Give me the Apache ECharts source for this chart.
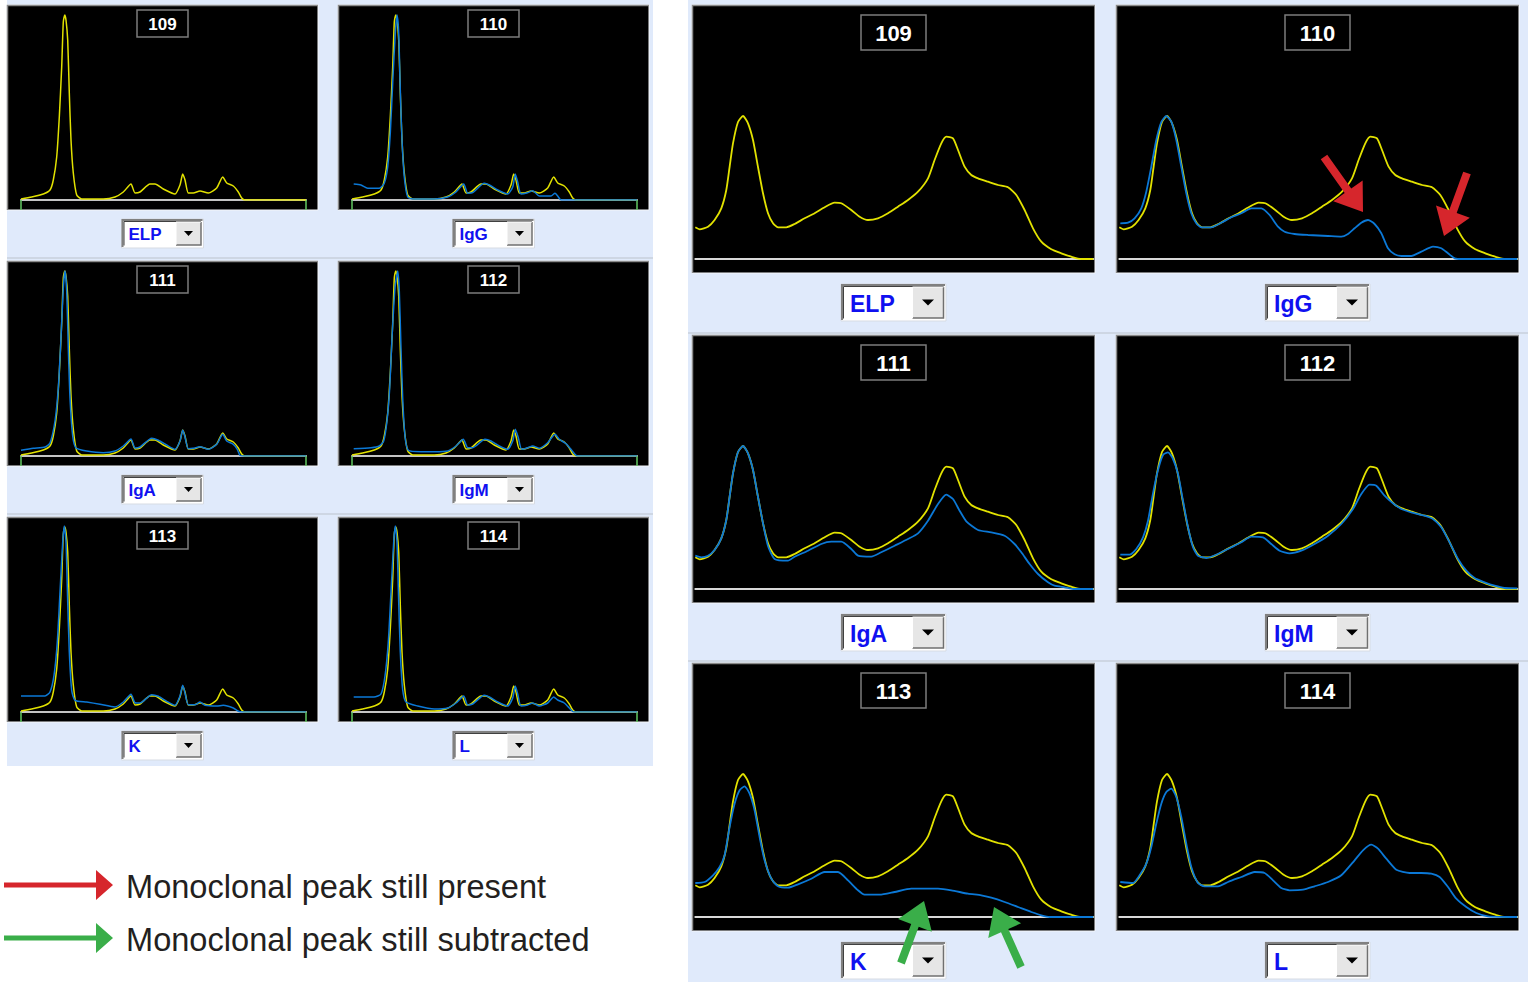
<!DOCTYPE html>
<html><head><meta charset="utf-8">
<script src="https://cdn.jsdelivr.net/npm/echarts@6/dist/echarts.min.js"></script>
<style>html,body{margin:0;padding:0;background:#fff;overflow:hidden}#c{position:absolute;left:0;top:0;width:1528px;height:982px}</style>
</head><body><div id="c"></div>
<script>
// ---------- labels ----------
const panelTitles = ['109', '110', '111', '112', '113', '114'];
const panelTests = ['ELP', 'IgG', 'IgA', 'IgM', 'K', 'L'];
const legendLabels = ['Monoclonal peak still present', 'Monoclonal peak still subtracted'];

// ---------- overview (small) traces: [migration, density] ----------
const smallELP = [[0,1],[10.7,3],[22.3,6],[29,10],[32.3,20],[35.7,43],[38.3,83],[40.7,133],[42.3,178],[43.7,185],[45,180],[46.7,160],[48.3,107],[50,60],[52.3,27],[55.7,5],[60.7,1],[82.3,1],[94,3],[102.3,8],[110,16],[114,7],[119,8],[129,16],[134,16],[142.3,11],[154,6],[159,15],[161.7,26],[164,20],[167.3,7],[172.3,7],[179,9],[187.3,7],[195.7,12],[201.7,23],[205.7,17],[212.3,14],[217.3,8],[220.7,2],[224,0],[285,0]];
const smallIgG = [[1.7,16],[9,15],[15.7,11.7],[27.3,11.7],[32.3,16.7],[35.7,33],[38.3,67],[40.7,117],[43.3,167],[45,185],[46.7,167],[48.3,110],[50,60],[52.3,23],[55.7,3],[62.3,1],[82.3,1],[95.7,3],[104,8],[111.7,16],[115.7,6.7],[120.7,7.3],[132.3,16.7],[137.3,15],[145.7,10],[155.7,6],[160.7,13],[163.3,26],[165.7,18],[169,6],[175.7,7.3],[180.7,9.3],[187.3,4],[199,4],[203,6.7],[205.7,4],[209,0],[285,0]];
const smallIgA = [[0,5.7],[12.3,7.7],[24,9],[29,13],[34,35],[37.3,68],[40,118],[42.3,168],[44,185],[45.7,165],[47.3,108],[49,58],[51.7,20],[55,8],[65.7,5],[82.3,3.3],[94,5],[102.3,10],[110,17],[114,8],[119,9],[130.7,17.7],[137.3,15.7],[145.7,11],[154,6.7],[159,15],[161.7,26],[164,19],[167.3,7.3],[172.3,7.7],[179,9.3],[187.3,6.7],[195.7,11.7],[201.7,21.7],[205.7,15],[212.3,11.7],[216.3,6.7],[219,0.7],[224,0],[285,0]];
const smallIgM = [[1.7,7.3],[19,8.3],[27.3,10],[31.7,15],[35,35],[37.7,68],[40,118],[43,168],[45.7,185],[47.3,165],[49,108],[50.7,58],[53,20],[56.3,5.7],[69,4.3],[82.3,4.3],[95.7,5],[104,10],[111.3,16.7],[115.7,8.3],[120.7,8.3],[133,16.7],[139,15],[147.3,10],[155.7,6.7],[160.7,15],[163.3,26.7],[166.3,18.3],[169.7,6.7],[175.7,8.3],[180.7,10],[187.3,7.7],[195.7,13.3],[203,21.7],[207.3,16.7],[214,12.3],[219,6.7],[224,0.7],[227.3,0],[285,0]];
const smallK = [[0,16],[24,16],[29,20],[33,36.7],[36.3,70],[39,120],[41.7,170],[43.3,186],[45,170],[46.7,110],[48.3,60],[50.7,21.7],[54,11.7],[65.7,10],[79,7.7],[94,5],[102.3,10],[110,17.7],[114,9.3],[119,9],[130.7,17.3],[137.3,15.7],[145.7,10.7],[154,6.7],[159,16],[161.7,26.7],[164,19],[167.3,7.3],[174,7.3],[179,10],[184,6.7],[195.7,6],[202.3,6.7],[212.3,4],[216.3,1.3],[220.7,0],[285,0]];
const smallL = [[1.7,15],[22,15],[29,18],[33,36],[36.3,70],[39,120],[41.7,170],[43.3,186],[45,170],[46.7,110],[48.3,60],[50.7,22],[54,10],[65.7,6],[82.3,3],[95.7,4],[104,9],[111.7,16],[115.7,7],[120.7,8],[132.3,16.7],[137.3,15],[145.7,10],[155.7,6],[160.7,14],[163.3,26],[165.7,18],[169,6],[175.7,7],[180.7,9],[187.3,6],[195.7,9],[201.7,15],[205.7,12],[212.3,9],[217.3,4],[222,0],[285,0]];

// ---------- zoomed (large) traces ----------
const largeELP = [[0,31.7],[4.3,29.7],[12.7,32.3],[19.3,39],[26,50.7],[31,69],[34.3,92],[37.7,115.7],[42.7,137],[47.7,143],[52.7,135.7],[57.7,119],[62.7,92],[67.7,65.7],[72.7,45.7],[77.7,35.7],[82.7,31.7],[91,31.7],[99.3,35],[109.3,40.7],[119.3,45.7],[129.3,51.7],[139.3,56.3],[146,55.7],[156,49],[164.3,42.3],[172.7,39],[182.7,40.7],[192.7,45.7],[202.7,52.3],[212.7,59],[222.7,67.3],[232.7,80.7],[239.3,99],[246,115.7],[251,122.3],[257.7,120.7],[262.7,109],[269.3,92.3],[276,84],[282.7,80.7],[292.7,77.3],[302.7,74],[312.7,71.7],[321,64],[329.3,49],[337.7,30.7],[346,17.3],[356,9.7],[366,5.7],[376,2.3],[386,0],[398,0]];
const largeIgG = [[1,35.7],[8.7,36.3],[15.3,40.7],[22,50.7],[27,67.3],[32,92.3],[37,119],[42,137],[47,143],[52,137.3],[57,119],[62,92.3],[67,65.7],[72,45.7],[77,35.7],[82,31.7],[92,31.7],[102,36.3],[112,41.7],[122,45.7],[132,50.7],[142,50.7],[150.3,44],[158.7,32.3],[165.3,27.3],[175.3,25],[188.7,24],[208.7,23],[222,22.3],[228.7,25],[235.3,30.7],[242,36.3],[248.7,39],[255.3,35],[262,25.7],[268.7,10.7],[275.3,4.7],[282,3],[292,3],[302,7.3],[313.7,12.3],[322,10.7],[328.7,5.7],[335.3,0.7],[342,0],[398,0]];
const largeIgA = [[0,33.3],[6,31.7],[12.7,33.3],[19.3,39],[26,50.7],[31,69],[34.3,92],[37.7,115.7],[42.7,137],[47.7,143],[52.7,135.7],[57.7,119],[62.7,92],[67.7,65.7],[72.7,43],[79.3,30],[92.7,28.3],[99.3,32.3],[112.7,38.3],[126,45],[136,47.3],[146,47.3],[156,40],[162.7,33.3],[176,32.3],[186,36.7],[199.3,43.3],[212.7,50],[222.7,55.7],[232.7,68.3],[242.7,85],[251,94.3],[257.7,90],[264.3,78.3],[271,67.7],[282.7,59],[296,56.7],[309.3,53.3],[319.3,45],[326,36.7],[334.3,25],[342.7,15],[352.7,6.7],[359.3,3.3],[369.3,1.7],[379.3,0],[398,0]];
const largeIgM = [[1,34.3],[10.3,34.3],[17,40],[23.7,51.7],[28.7,68.3],[33.7,95.7],[38.7,119],[43.7,134],[48.7,136.7],[53.7,130],[58.7,115],[63.7,88.3],[68.7,61.7],[73.7,41.7],[78.7,33.3],[87,31],[98.7,35],[112,41.7],[122,46.7],[132,52.3],[143.7,51.7],[152,45],[160.3,38.3],[170.3,35.7],[182,38.3],[195.3,45],[208.7,53.3],[222,65],[233.7,80],[242,95],[250.3,104.3],[257,103.3],[265.3,93.3],[273.7,85.7],[282,80],[292,76.7],[305.3,73.3],[313.7,70],[322,61.7],[330.3,46.7],[338.7,30],[347,18.3],[355.3,11],[365.3,6.7],[375.3,3.3],[385.3,1],[398,0.7]];
const largeK = [[0,34],[9.3,35],[17.7,41.7],[24.3,50],[29.3,61.7],[34.3,90],[39.3,113.3],[44.3,126.7],[49.3,130.7],[54.3,123.3],[59.3,106.7],[64.3,80],[69.3,56.7],[76,38.3],[82.7,30.7],[92.7,29.3],[102.7,32.7],[116,38.3],[129.3,45],[142.7,45],[152.7,36.7],[162.7,26.7],[169.3,22.3],[184.3,22.3],[199.3,25],[216,28.3],[242.7,28.3],[256,26.7],[272.7,23.3],[286,21.7],[296,19.3],[309.3,15],[322.7,10],[336,5],[346,1.7],[354.3,0],[398,0]];
const largeL = [[1,35],[13.7,34],[20.3,41.7],[27,53.3],[32,70],[37,93.3],[42,113.3],[47,125],[52,128.3],[57,120],[62,100],[67,73.3],[72,50],[78.7,34],[85.3,30.7],[98.7,30.7],[108.7,35],[122,40],[135.3,45],[145.3,44],[153.7,36.7],[162,29],[170.3,26.7],[183.7,27.3],[195.3,30.7],[208.7,35],[222,41.7],[235.3,56.7],[243.7,66.7],[252,72.3],[258.7,68.3],[267,58.3],[277,47.3],[290.3,44],[302,44],[312,43.3],[320.3,40],[328.7,30],[337,18.3],[347,10],[357,4],[368.7,0.7],[398,0]];

const smallBlue = [null, smallIgG, smallIgA, smallIgM, smallK, smallL];
const largeBlue = [null, largeIgG, largeIgA, largeIgM, largeK, largeL];

// ---------- layout ----------
const SMALL = {cols:[7,338], rows:[5,261,517], w:311, h:205, dx:14, plotW:285, plotH:195, xMax:285, yMax:195,
  title:{w:51,h:27,dy:5,font:17}, dd:{w:82,h:29,dy:214,btn:25,font:17,tri:[9,5],tx:7}, lw:1.5, ticks:true};
const LARGE = {cols:[692,1116], rows:[5,335,663], w:403, h:268, dx:3.3, plotW:398, plotH:254, xMax:398, yMax:254,
  title:{w:65,h:35,dy:10,font:22}, dd:{w:105,h:37,dy:279,btn:31,font:23,tri:[12,6],tx:9}, lw:1.8, ticks:false};

const YELLOW = '#e2e200', BLUE = '#0b78d6', BG = '#e0eafb';
const FONT = '"Liberation Sans", Arial, sans-serif';

const grids = [], xAxes = [], yAxes = [], series = [], graphics = [];

// group backgrounds
graphics.push({type:'rect', z:-20, shape:{x:7,y:0,width:646,height:766}, style:{fill:BG}});
graphics.push({type:'rect', z:-20, shape:{x:688,y:0,width:840,height:982}, style:{fill:BG}});
[258, 514].forEach(y => graphics.push({type:'line', z:-19, shape:{x1:7,y1:y,x2:653,y2:y}, style:{stroke:'#bcc3cc',lineWidth:1}}));
[333, 661].forEach(y => graphics.push({type:'line', z:-19, shape:{x1:688,y1:y,x2:1528,y2:y}, style:{stroke:'#bcc3cc',lineWidth:1}}));

function addGroup(G, blues) {
  for (let k = 0; k < 6; k++) {
    const col = k % 2, row = Math.floor(k / 2);
    const px = G.cols[col], py = G.rows[row], cx = px + G.w / 2;
    // panel
    graphics.push({type:'rect', z:-10, shape:{x:px,y:py,width:G.w,height:G.h}, style:{fill:'#000', stroke:'#f4f6fa', lineWidth:1}});
    graphics.push({type:'polyline', z:-9, shape:{points:[[px+0.5,py+G.h],[px+0.5,py+0.5],[px+G.w,py+0.5]]}, style:{stroke:'#8a8a8a', lineWidth:1.5, fill:null}});
    // title box
    const T = G.title;
    graphics.push({type:'rect', z:10, shape:{x:cx-T.w/2,y:py+T.dy,width:T.w,height:T.h}, style:{fill:'#000', stroke:'#7c7c7c', lineWidth:1.5}});
    graphics.push({type:'text', z:11, style:{text:panelTitles[k], x:cx, y:py+T.dy+T.h/2+1, fill:'#fff', font:'bold '+T.font+'px '+FONT, align:'center', verticalAlign:'middle', textAlign:'center', textVerticalAlign:'middle'}});
    // dropdown
    const D = G.dd, dl = cx - D.w/2, dt = py + D.dy;
    graphics.push({type:'rect', z:10, shape:{x:dl,y:dt,width:D.w,height:D.h}, style:{fill:'#fff', stroke:'#d6dbe3', lineWidth:1}});
    graphics.push({type:'polyline', z:11, shape:{points:[[dl+1,dt+D.h-1],[dl+1,dt+1],[dl+D.w-1,dt+1]]}, style:{stroke:'#808080', lineWidth:2, fill:null}});
    graphics.push({type:'polyline', z:11, shape:{points:[[dl+2.5,dt+D.h-2.5],[dl+2.5,dt+2.5],[dl+D.w-2.5,dt+2.5]]}, style:{stroke:'#404040', lineWidth:1, fill:null}});
    const bx = dl + D.w - D.btn - 2.5, by = dt + 3, bh = D.h - 6;
    graphics.push({type:'rect', z:11, shape:{x:bx,y:by,width:D.btn,height:bh}, style:{fill:'#e6e6e6'}});
    graphics.push({type:'polyline', z:12, shape:{points:[[bx,by+bh],[bx+D.btn,by+bh],[bx+D.btn,by]]}, style:{stroke:'#707070', lineWidth:1.5, fill:null}});
    graphics.push({type:'polyline', z:12, shape:{points:[[bx,by+bh],[bx,by],[bx+D.btn,by]]}, style:{stroke:'#ffffff', lineWidth:1, fill:null}});
    const tcx = bx + D.btn/2, tcy = by + bh/2;
    graphics.push({type:'polygon', z:13, shape:{points:[[tcx-D.tri[0]/2,tcy-D.tri[1]/2],[tcx+D.tri[0]/2,tcy-D.tri[1]/2],[tcx,tcy+D.tri[1]/2]]}, style:{fill:'#000'}});
    graphics.push({type:'text', z:12, style:{text:panelTests[k], x:dl+D.tx, y:dt+D.h/2+1, fill:'#1010f0', font:'bold '+D.font+'px '+FONT, align:'left', verticalAlign:'middle', textAlign:'left', textVerticalAlign:'middle'}});

    // chart grid
    const gi = grids.length;
    grids.push({left:px+G.dx, top:py, width:G.plotW, height:G.plotH, containLabel:false});
    xAxes.push({type:'value', gridIndex:gi, min:0, max:G.xMax, interval:G.xMax, z:1,
      axisLine:{show:true, lineStyle:{color: G.ticks ? '#c4c4c4' : '#d8d8d8', width:2}},
      axisTick:{show:G.ticks, length:10, lineStyle:{color:'#62c862', width:1.5}},
      axisLabel:{show:false}, splitLine:{show:false}});
    yAxes.push({type:'value', gridIndex:gi, min:0, max:G.yMax, show:false, splitLine:{show:false}});
    series.push({type:'line', name:'ELP '+panelTitles[k], xAxisIndex:gi, yAxisIndex:gi, data: G === SMALL ? smallELP : largeELP,
      showSymbol:false, smooth:0.2, lineStyle:{color:YELLOW, width:G.lw}, z:3});
    if (blues[k]) {
      series.push({type:'line', name:panelTests[k]+' '+panelTitles[k], xAxisIndex:gi, yAxisIndex:gi, data:blues[k],
        showSymbol:false, smooth:0.2, lineStyle:{color:BLUE, width:G.lw}, z:4});
    }
  }
}
addGroup(SMALL, smallBlue);
addGroup(LARGE, largeBlue);

// annotation arrows
function arrow(tail, tip, shaftW, headW, headL, color) {
  const dx = tip[0]-tail[0], dy = tip[1]-tail[1], len = Math.hypot(dx, dy);
  const ux = dx/len, uy = dy/len, nx = -uy, ny = ux;
  const bx = tip[0]-ux*headL, by = tip[1]-uy*headL;
  const pts = [
    [tail[0]+nx*shaftW/2, tail[1]+ny*shaftW/2],
    [bx+nx*shaftW/2, by+ny*shaftW/2],
    [bx+nx*headW/2, by+ny*headW/2],
    tip,
    [bx-nx*headW/2, by-ny*headW/2],
    [bx-nx*shaftW/2, by-ny*shaftW/2],
    [tail[0]-nx*shaftW/2, tail[1]-ny*shaftW/2]
  ];
  graphics.push({type:'polygon', z:30, shape:{points:pts}, style:{fill:color}});
}
const RED = '#d6262c', GREEN = '#3aae49';
arrow([1324,157],[1363,212], 8, 36, 26, RED);
arrow([1467,173],[1444,236], 8, 36, 26, RED);
arrow([901,963],[924,901], 8, 36, 26, GREEN);
arrow([1021,967],[994,907], 8, 36, 26, GREEN);

// legend
arrow([4,885],[113,885], 5, 30, 17, RED);
arrow([4,938],[113,938], 5, 30, 17, GREEN);
graphics.push({type:'text', z:30, style:{text:legendLabels[0], x:126, y:886, fill:'#231f20', font:'32.6px '+FONT, align:'left', verticalAlign:'middle', textAlign:'left', textVerticalAlign:'middle'}});
graphics.push({type:'text', z:30, style:{text:legendLabels[1], x:126, y:939, fill:'#231f20', font:'32.6px '+FONT, align:'left', verticalAlign:'middle', textAlign:'left', textVerticalAlign:'middle'}});

const chart = echarts.init(document.getElementById('c'), null, {renderer:'svg', width:1528, height:982});
chart.setOption({
  animation:false,
  backgroundColor:'#ffffff',
  grid:grids, xAxis:xAxes, yAxis:yAxes, series:series,
  graphic:{elements:graphics}
});
</script></body></html>
